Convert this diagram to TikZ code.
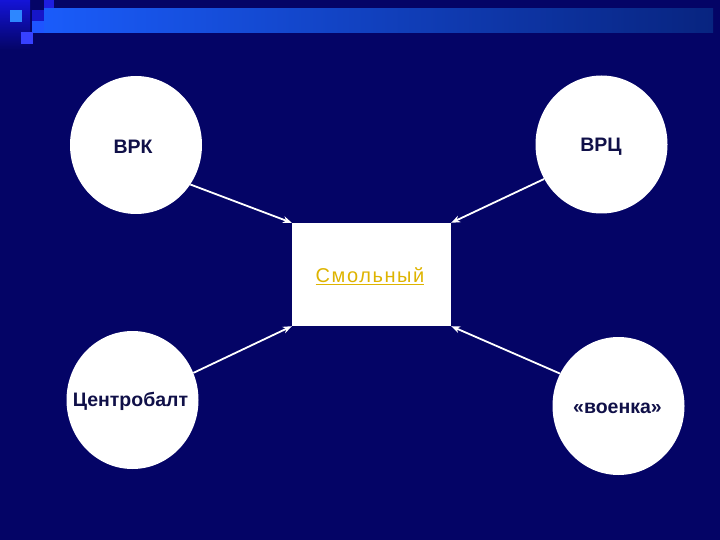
\documentclass[tikz,border=0pt]{standalone}
\usepackage{fontspec}
\setmainfont{Liberation Sans}
\usetikzlibrary{shapes.geometric,arrows.meta}
\definecolor{bg}{RGB}{4,4,102}
\definecolor{ink}{RGB}{16,16,72}
\definecolor{gold}{RGB}{222,180,0}
\definecolor{barL}{RGB}{26,92,250}
\definecolor{barR}{RGB}{8,36,128}
\definecolor{glow}{RGB}{20,20,215}
\definecolor{sqA}{RGB}{30,30,225}
\definecolor{sqB}{RGB}{45,135,255}
\definecolor{sqC}{RGB}{22,22,200}
\definecolor{sqD}{RGB}{30,85,255}
\definecolor{sqE}{RGB}{55,65,255}
\tikzset{
  circ/.style={ellipse,fill=white,draw=none,minimum width=132pt,minimum height=138pt,inner sep=0pt},
  lbl/.style={text=ink,font=\fontsize{19.5}{22}\selectfont\bfseries,inner sep=0pt},
  conn/.style={draw=white,line width=1.8pt,-{Stealth[length=9pt,width=7pt]}},
}
\begin{document}
\begin{tikzpicture}[x=1pt,y=-1pt]
\useasboundingbox (0,0) rectangle (720,540);
\fill[bg] (0,0) rectangle (720,540);
% top-left decoration
\shade[top color=glow,bottom color=bg,draw=none] (0,0) rectangle (30,50);
\fill[sqA] (44,0) rectangle (54,10);
\shade[left color=barL,right color=barR] (44,9) rectangle (713,33);
\fill[sqB] (10,10) rectangle (22,22);
\fill[sqC] (32,10) rectangle (44,21);
\fill[sqD] (32,21) rectangle (44,33);
\fill[sqE] (21,32) rectangle (33,44);
% nodes
\node[circ] (vrk) at (136,145) {};
\node[circ] (vrc) at (601.5,144.5) {};
\node[circ] (cb) at (132.5,400) {};
\node[circ] (vk) at (618.5,406) {};
\node[lbl] (tvrk) at (133,147) {ВРК};
\node[lbl] (tvrc) at (601,147) {ВРЦ};
\node[lbl] (tcb) at (130.5,401) {Центробалт};
\node[lbl] (tvk) at (617.5,408) {«военка»};
\node[fill=white,minimum width=159pt,minimum height=103pt,inner sep=0pt] (sm) at (371.5,274.5) {};
\node[text=gold,font=\fontsize{20}{22}\selectfont\addfontfeature{LetterSpace=8},inner sep=0pt] (tsm) at (370,276) {\underline{Смольный}};
% connectors
\draw[conn] (vrk.-36) -- (sm.north west);
\draw[conn] (vrc.-149) -- (sm.north east);
\draw[conn] (cb.24) -- (sm.south west);
\draw[conn] (vk.151) -- (sm.south east);
\end{tikzpicture}
\end{document}
